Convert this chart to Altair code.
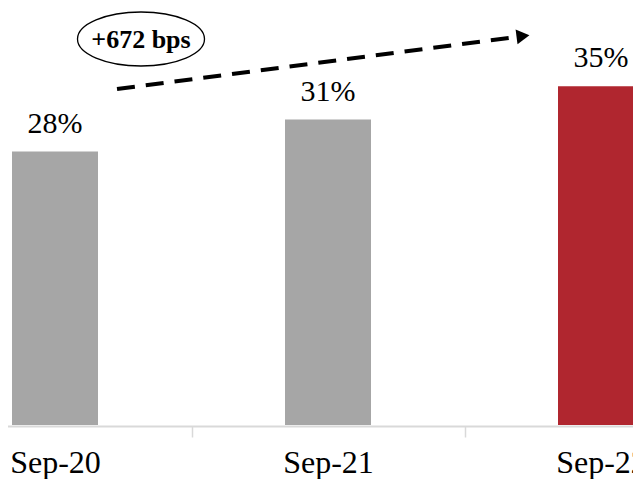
import altair as alt
import pandas as pd

categories = ["Sep-20", "Sep-21", "Sep-22"]
values = [28.2, 31.5, 34.92]
labels = ["28%", "31%", "35%"]
colors = ["#a6a6a6", "#a6a6a6", "#b0262f"]
annotation = ["+672 bps"]

df = pd.DataFrame({"cat": categories, "val": values, "label": labels, "color": colors})
ann = pd.DataFrame({"text": annotation})

x = alt.X(
    "cat:N",
    sort=categories,
    scale=alt.Scale(domain=categories, range=[-89.5, 729.5], paddingInner=0, paddingOuter=0),
    axis=alt.Axis(
        title=None, labelAngle=0, labelFont="Liberation Serif", labelFontSize=32,
        labelColor="#000000", labelBaseline="alphabetic", labelPadding=35,
        tickSize=11, tickColor="#d9d9d9", tickWidth=1.5, tickBand="extent",
        domainColor="#d9d9d9", domainWidth=2, offset=1, grid=False,
    ),
)
y = alt.Y("val:Q", scale=alt.Scale(domain=[0, 43]), axis=None)

bars = alt.Chart(df).mark_bar(size=86).encode(
    x=x, y=y, color=alt.Color("color:N", scale=None)
)
vlabels = alt.Chart(df).mark_text(
    font="Liberation Serif", fontSize=30, baseline="alphabetic", dy=-19, color="#000000"
).encode(x=x, y=y, text="label:N")

arrow_line = alt.Chart(ann).mark_rule(
    strokeDash=[18, 11], strokeWidth=4, color="#000000"
).encode(x=alt.value(109), y=alt.value(81), x2=alt.value(508), y2=alt.value(29))

arrow_head = alt.Chart(ann).mark_point(
    shape="triangle-right", size=225, filled=True, color="#000000", opacity=1, angle=352.6
).encode(x=alt.value(515), y=alt.value(28))

ellipse = alt.Chart(ann).mark_point(
    shape="M-1,0A1,0.425,0,1,1,1,0A1,0.425,0,1,1,-1,0Z",
    size=16129, filled=False, color="#000000", strokeWidth=1.3, opacity=1,
).encode(x=alt.value(133), y=alt.value(31))

ann_text = alt.Chart(ann).mark_text(
    font="Liberation Serif", fontWeight="bold", fontSize=26, baseline="middle",
    align="center", color="#000000",
).encode(x=alt.value(133), y=alt.value(32), text="text:N")

chart = alt.layer(bars, vlabels, arrow_line, arrow_head, ellipse, ann_text).properties(
    width=625, height=417,
    autosize=alt.AutoSizeParams(type="none"),
    padding={"left": 0, "top": 0, "right": 0, "bottom": 54},
    background="#ffffff",
).configure_view(stroke=None)

chart.save("out.html", embed_options={"renderer": "svg", "actions": False})
